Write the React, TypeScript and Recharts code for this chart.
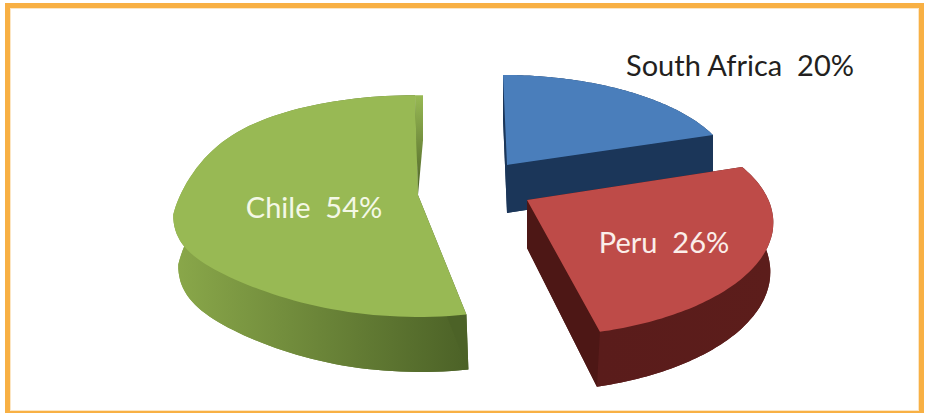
import { Pie, PieChart } from "recharts";

const countries = ["South Africa", "Peru", "Chile"];
const shares = [20, 26, 54];

const data = countries.map((name, i) => ({ name, value: shares[i] }));

interface SliceStyle {
  dx: number; // explode offset
  dy: number;
  rx: number; // ellipse radii as fraction of outerRadius
  ry: number;
  ryDown: number;
  persp: number; // how fast things grow towards the viewer
  perspDown: number;
  skewUp: number;
  skewDown: number;
  startTrim: number; // 3d view squeezes the angles a bit
  sag: number; // far side of the ellipse hangs a bit lower
  depth: number;
  depthPersp: number;
  lean: number;
  leanLeft: number; // side wall converges on the left
  top: string;
  wall: [string, string];
  cut: string;
  labelX: number;
  labelY: number;
  labelFill: string;
  backWall?: { dx: number; height: number };
}

const sliceStyles: Record<string, SliceStyle> = {
  "South Africa": {
    dx: 57, dy: -25, rx: 0.937, ry: 0.417, ryDown: 0.417, persp: 0.1, perspDown: 0.1,
    skewUp: -4, skewDown: 0, startTrim: 0, sag: 0,
    depth: 48, depthPersp: 0.1, lean: 0, leanLeft: 0,
    top: "#4a7ebb", wall: ["#1b3659", "#1b3659"], cut: "#1b3659",
    labelX: 233, labelY: -101, labelFill: "#231f20",
  },
  Peru: {
    dx: 77, dy: 10, rx: 1.006, ry: 0.475, ryDown: 0.475, persp: 0.2, perspDown: 0.2,
    skewUp: -1.3, skewDown: 1.3, startTrim: 0, sag: 0,
    depth: 48, depthPersp: 0.15, lean: -3, leanLeft: 0,
    top: "#be4b48", wall: ["#5a1c1b", "#5c1d1b"], cut: "#4d1715",
    labelX: 137, labelY: 41, labelFill: "#fbeeea",
  },
  Chile: {
    dx: -32, dy: 5, rx: 1.02, ry: 0.471, ryDown: 0.508, persp: 0.117, perspDown: 0,
    skewUp: -3, skewDown: 0, startTrim: -3, sag: 20,
    depth: 50, depthPersp: 0.1, lean: 2, leanLeft: 3,
    top: "#98b954", wall: ["#8aa84a", "#4c6227"], cut: "#4c6227",
    labelX: -104, labelY: 11, labelFill: "#f4f8e6",
    backWall: { dx: 8, height: 45 },
  },
};

const rad = (deg: number) => (deg * Math.PI) / 180;
const toPath = (pts: number[][]) =>
  "M" + pts.map((p) => `${p[0].toFixed(1)},${p[1].toFixed(1)}`).join("L") + "Z";

function Slice3D(props: any) {
  const { cx, cy, outerRadius, startAngle, endAngle, name } = props;
  const s = sliceStyles[name];
  const ax = cx + s.dx;
  const ay = cy + s.dy;
  const rx = outerRadius * s.rx;

  const project = (deg: number) => {
    const sin = Math.sin(rad(deg));
    const cos = Math.cos(rad(deg));
    const up = sin > 0;
    const scale = 1 - (up ? s.persp : s.perspDown) * sin;
    const skew = (up ? s.skewUp : s.skewDown) * Math.abs(sin);
    const ry = outerRadius * (up ? s.ry : s.ryDown);
    const sag = cos < 0 ? s.sag * Math.pow(cos, up ? 10 : 6) : 0;
    return [ax + rx * cos * scale + skew, ay - ry * sin * scale + sag];
  };
  const drop = (p: number[], deg: number, r: number) => {
    const cos = Math.cos(rad(deg));
    return [
      p[0] + s.lean * r + (cos < 0 ? s.leanLeft * cos * cos * r : 0),
      p[1] + s.depth * (1 - s.depthPersp * r * Math.sin(rad(deg))),
    ];
  };

  const steps = 96;
  const angles = Array.from({ length: steps + 1 }, (_, i) => {
    const t = i / steps;
    return startAngle + s.startTrim * (1 - t) + (endAngle - startAngle) * t;
  });
  const arc = angles.map((a) => project(a));
  const arcLow = angles.map((a, i) => drop(arc[i], a, 1));
  const apex = [ax, ay];
  const apexLow = drop(apex, 0, 0);
  const gradId = `wall-${name.replace(/\s/g, "")}`;
  const first = arc[0];
  const last = arc[steps];

  return (
    <g>
      <defs>
        <linearGradient
          id={gradId}
          gradientUnits="userSpaceOnUse"
          x1={Math.min(...arc.map((p) => p[0]))}
          x2={Math.max(...arc.map((p) => p[0]))}
          y1={0}
          y2={0}
        >
          <stop offset="0" stopColor={s.wall[0]} />
          <stop offset="1" stopColor={s.wall[1]} />
        </linearGradient>
        <linearGradient id={`${gradId}-back`} x1="0" x2="0" y1="0" y2="1">
          <stop offset="0" stopColor={s.top} />
          <stop offset="1" stopColor={s.cut} />
        </linearGradient>
      </defs>
      <path d={toPath([apexLow, ...arcLow])} fill={`url(#${gradId})`} />
      <path d={toPath([...arc, ...arcLow.slice().reverse()])} fill={`url(#${gradId})`} />
      <path d={toPath([apex, first, arcLow[0], apexLow])} fill={s.cut} />
      <path d={toPath([apex, last, arcLow[steps], apexLow])} fill={s.cut} />
      {s.backWall && (
        <path
          d={toPath([
            apex,
            last,
            [last[0] + s.backWall.dx, last[1]],
            [last[0] + s.backWall.dx, last[1] + s.backWall.height],
          ])}
          fill={`url(#${gradId}-back)`}
        />
      )}
      <path d={toPath([apex, ...arc])} fill={s.top} />
    </g>
  );
}

function SliceLabel(props: any) {
  const { cx, cy, name, value } = props;
  const s = sliceStyles[name];
  return (
    <text
      x={cx + s.dx + s.labelX}
      y={cy + s.dy + s.labelY}
      textAnchor="middle"
      dominantBaseline="central"
      fontFamily="Lato, 'Open Sans', sans-serif"
      fontSize={29}
      fill={s.labelFill}
      style={{ whiteSpace: "pre" }}
    >
      {`${name}  ${value}%`}
    </text>
  );
}

export default function App() {
  return (
    <div
      style={{
        position: "absolute",
        left: 0,
        top: 0,
        width: 928,
        height: 413,
        overflow: "hidden",
        background: "#fff",
      }}
    >
      <div
        style={{
          position: "absolute",
          left: 5,
          top: 3,
          width: 909,
          height: 403,
          border: "5px solid #f8b044",
          boxSizing: "content-box",
          boxShadow: "inset 0 0 0 1px #fce6c4",
        }}
      />
      <div style={{ position: "absolute", left: 0, top: 0 }}>
        <PieChart width={928} height={413} margin={{ top: 0, right: 0, bottom: 0, left: 0 }}>
          <Pie
            data={data}
            dataKey="value"
            nameKey="name"
            cx={450}
            cy={190}
            outerRadius={240}
            startAngle={90}
            endAngle={-270}
            stroke="none"
            shape={Slice3D}
            label={SliceLabel}
            labelLine={false}
            isAnimationActive={false}
          />
        </PieChart>
      </div>
    </div>
  );
}
